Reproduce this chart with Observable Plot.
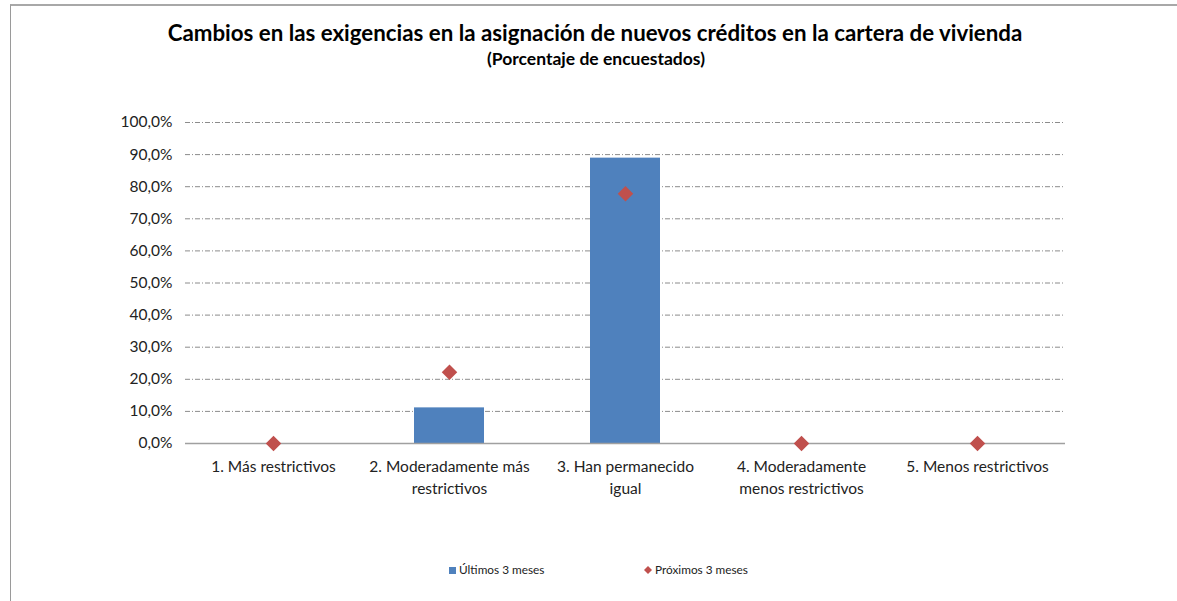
<!DOCTYPE html>
<html>
<head>
<meta charset="utf-8">
<script src="https://cdn.jsdelivr.net/npm/d3@7"></script>
<script src="https://cdn.jsdelivr.net/npm/@observablehq/plot@0.6"></script>
<style>
  html, body { margin: 0; padding: 0; background: #fff; }
  body { width: 1177px; height: 601px; position: relative; overflow: hidden; font-family: Lato, "Open Sans", sans-serif; }
  #frame { position: absolute; left: 10px; top: 4px; width: 1200px; height: 620px; border-left: 1px solid #9a9a9a; border-top: 2px solid #a8a8a8; }
  #title { position: absolute; left: 0; width: 1190px; top: 19px; text-align: center; font-weight: bold; font-size: 22.3px; color: #000; }
  #subtitle { position: absolute; left: 0; width: 1192px; top: 48px; text-align: center; font-weight: bold; font-size: 17.5px; color: #000; }
  #chart { position: absolute; left: 0; top: 100px; }
  #legend { position: absolute; top: 562px; left: 0; width: 1177px; font-size: 11.8px; color: #222; }
  .lg { position: absolute; white-space: nowrap; }
</style>
</head>
<body>
<div id="frame"></div>
<div id="title">Cambios en las exigencias en la asignación de nuevos créditos en la cartera de vivienda</div>
<div id="subtitle">(Porcentaje de encuestados)</div>
<div id="chart"></div>
<div id="legend">
  <span class="lg" style="left:449px;"><svg width="7" height="7" style="vertical-align:0px"><rect width="7" height="7" fill="#4F81BD"/></svg> Últimos 3 meses</span>
  <span class="lg" style="left:644px;"><svg width="8" height="8" style="vertical-align:0px"><path d="M4,0L8,4L4,8L0,4Z" fill="#C0504D"/></svg> Próximos 3 meses</span>
</div>
<script>
const categories = [
  "1. Más restrictivos",
  "2. Moderadamente más\nrestrictivos",
  "3. Han permanecido\nigual",
  "4. Moderadamente\nmenos restrictivos",
  "5. Menos restrictivos"
];
const ultimos = [0, 11.1, 88.9, 0, 0];
const proximos = [0, 22.2, 77.8, 0, 0];
const yTicks = [0, 10, 20, 30, 40, 50, 60, 70, 80, 90, 100];

const barData = categories.map((c, i) => ({cat: c, v: ultimos[i]}));
const dotData = categories.map((c, i) => ({cat: c, v: proximos[i]}));

const fmt = v => v.toFixed(1).replace(".", ",") + "%";

const chart = Plot.plot({
  width: 1177,
  height: 420,
  marginLeft: 185,
  marginRight: 112,
  marginTop: 22,
  marginBottom: 77,
  style: { fontFamily: "Lato, 'Open Sans', sans-serif", fontSize: "15.5px", color: "#222", background: "transparent" },
  x: { domain: categories, paddingInner: 0, paddingOuter: 0, label: null },
  y: { domain: [0, 100], label: null },
  marks: [
    Plot.axisY({ ticks: yTicks, tickFormat: fmt, tickSize: 0, tickPadding: 13, label: null, fontSize: 15.5 }),
    Plot.axisX({ tickSize: 0, tickPadding: 13, label: null, lineHeight: 1.4, fontSize: 15.5 }),
    Plot.ruleY(yTicks.filter(t => t > 0), { stroke: "#8c8c8c", strokeWidth: 1, strokeDasharray: "5,2,1,2", strokeOpacity: 1 }),
    Plot.barY(barData, { x: "cat", y: "v", fill: "#4F81BD", insetLeft: 53, insetRight: 53 }),
    Plot.ruleY([0], { stroke: "#a0a0a0", strokeWidth: 1.5 }),
    Plot.dot(dotData, { x: "cat", y: "v", symbol: "square", rotate: 45, r: 6.2, fill: "#C0504D", stroke: "none" })
  ]
});
document.getElementById("chart").appendChild(chart);
</script>
</body>
</html>
